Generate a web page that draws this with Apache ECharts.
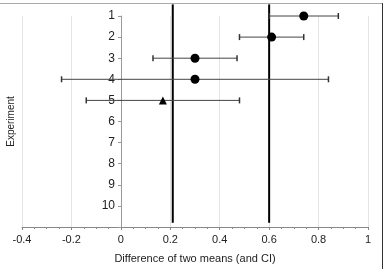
<!DOCTYPE html>
<html><head><meta charset="utf-8">
<script src="https://cdn.jsdelivr.net/npm/echarts@6/dist/echarts.min.js"></script>
<style>html,body{margin:0;padding:0;background:#fff}#c{width:384px;height:269px}</style>
</head><body><div id="c"></div>
<script>
var experiments = [1, 2, 3, 4, 5];
var means = [0.74, 0.61, 0.30, 0.30, 0.17];
var ciLow = [0.60, 0.48, 0.13, -0.24, -0.14];
var ciHigh = [0.88, 0.74, 0.47, 0.84, 0.48];
var markerShapes = ['circle', 'circle', 'circle', 'circle', 'triangle'];
var refLines = [0.21, 0.60];
var xTicks = [-0.4, -0.2, 0, 0.2, 0.4, 0.6, 0.8, 1];
var yTicks = [1, 2, 3, 4, 5, 6, 7, 8, 9, 10];

var chart = echarts.init(document.getElementById('c'));
var font = 'Liberation Sans, Arial, sans-serif';
var errData = experiments.map(function (e, i) { return [ciLow[i], ciHigh[i], e]; });
var ptData = experiments.map(function (e, i) {
  return { value: [means[i], e], symbol: markerShapes[i], symbolSize: markerShapes[i] === 'triangle' ? 8 : 9 };
});
var refSeries = refLines.map(function (v) {
  return {
    type: 'line', data: [[v, 0.45], [v, 10.8]], symbol: 'none', clip: false,
    lineStyle: { color: '#000', width: 2 }, silent: true, z: 3
  };
});
chart.setOption({
  animation: false,
  grid: { left: 22, right: 16, top: 16, bottom: 42, containLabel: false, outerBoundsMode: 'none' },
  xAxis: {
    type: 'value', min: -0.4, max: 1, interval: 0.2,
    name: 'Difference of two means (and CI)', nameLocation: 'middle', nameGap: 26,
    nameTextStyle: { fontFamily: font, fontSize: 11, color: '#222' },
    axisLine: { show: true, lineStyle: { color: '#888' } },
    axisTick: { show: true, length: 3, lineStyle: { color: '#888' } },
    minorTick: { show: true, splitNumber: 4, length: 2, lineStyle: { color: '#888' } },
    axisLabel: { fontFamily: font, fontSize: 11, color: '#222', margin: 7,
      formatter: function (v) { var r = Math.round(v * 10) / 10; return xTicks.indexOf(r) >= 0 ? String(r) : ''; } },
    splitLine: { show: true, lineStyle: { color: '#e4e4e4' } }
  },
  yAxis: {
    type: 'value', min: 1, max: 11, interval: 1, inverse: true,
    position: 'left', offset: -99,
    name: 'Experiment', nameLocation: 'middle', nameGap: 105, nameRotate: 90,
    nameTextStyle: { fontFamily: font, fontSize: 10, color: '#222' },
    axisLine: { show: true, onZero: false, lineStyle: { color: '#999' } },
    axisTick: { show: true, length: 3, lineStyle: { color: '#999' } },
    axisLabel: { fontFamily: font, fontSize: 12, color: '#222', margin: 6,
      formatter: function (v) { return yTicks.indexOf(v) >= 0 ? String(v) : ''; } },
    splitLine: { show: false }
  },
  graphic: [
    { type: 'line', shape: { x1: 0, y1: 3.5, x2: 383, y2: 3.5 }, style: { stroke: '#aaa', lineWidth: 1 } },
    { type: 'line', shape: { x1: 382.5, y1: 3, x2: 382.5, y2: 269 }, style: { stroke: '#333', lineWidth: 1 } }
  ],
  series: refSeries.concat([
    {
      type: 'custom', z: 4,
      renderItem: function (params, api) {
        var p1 = api.coord([api.value(0), api.value(2)]);
        var p2 = api.coord([api.value(1), api.value(2)]);
        var h = 3;
        var st = { stroke: '#444', lineWidth: 1 };
        return { type: 'group', children: [
          { type: 'line', shape: { x1: p1[0], y1: p1[1], x2: p2[0], y2: p2[1] }, style: st },
          { type: 'line', shape: { x1: p1[0], y1: p1[1] - h, x2: p1[0], y2: p1[1] + h }, style: { stroke: '#333', lineWidth: 1.5 } },
          { type: 'line', shape: { x1: p2[0], y1: p2[1] - h, x2: p2[0], y2: p2[1] + h }, style: { stroke: '#333', lineWidth: 1.5 } }
        ] };
      },
      data: errData
    },
    {
      type: 'scatter', z: 5, data: ptData,
      itemStyle: { color: '#000', opacity: 1 }
    }
  ])
});
</script></body></html>
